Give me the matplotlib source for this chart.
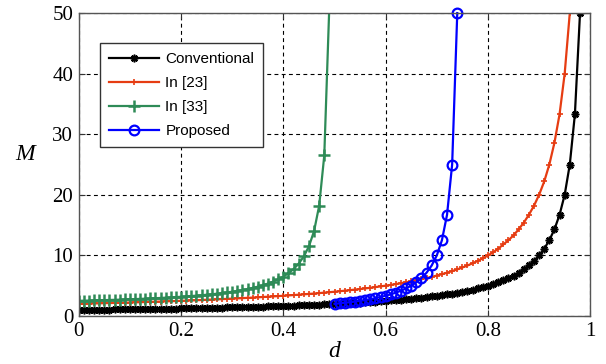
import matplotlib
matplotlib.use("Agg")
import matplotlib.pyplot as plt

# step grid along d shared by all four curves
d_vals = [0.00, 0.01, 0.02, 0.03, 0.04, 0.05, 0.06, 0.07, 0.08, 0.09,
          0.10, 0.11, 0.12, 0.13, 0.14, 0.15, 0.16, 0.17, 0.18, 0.19,
          0.20, 0.21, 0.22, 0.23, 0.24, 0.25, 0.26, 0.27, 0.28, 0.29,
          0.30, 0.31, 0.32, 0.33, 0.34, 0.35, 0.36, 0.37, 0.38, 0.39,
          0.40, 0.41, 0.42, 0.43, 0.44, 0.45, 0.46, 0.47, 0.48, 0.49,
          0.50, 0.51, 0.52, 0.53, 0.54, 0.55, 0.56, 0.57, 0.58, 0.59,
          0.60, 0.61, 0.62, 0.63, 0.64, 0.65, 0.66, 0.67, 0.68, 0.69,
          0.70, 0.71, 0.72, 0.73, 0.74, 0.75, 0.76, 0.77, 0.78, 0.79,
          0.80, 0.81, 0.82, 0.83, 0.84, 0.85, 0.86, 0.87, 0.88, 0.89,
          0.90, 0.91, 0.92, 0.93, 0.94, 0.95, 0.96, 0.97, 0.98]

M_conv = [1.00, 1.01, 1.02, 1.03, 1.04, 1.05, 1.06, 1.08, 1.09, 1.10,
          1.11, 1.12, 1.14, 1.15, 1.16, 1.18, 1.19, 1.20, 1.22, 1.23,
          1.25, 1.27, 1.28, 1.30, 1.32, 1.33, 1.35, 1.37, 1.39, 1.41,
          1.43, 1.45, 1.47, 1.49, 1.52, 1.54, 1.56, 1.59, 1.61, 1.64,
          1.67, 1.69, 1.72, 1.75, 1.79, 1.82, 1.85, 1.89, 1.92, 1.96,
          2.00, 2.04, 2.08, 2.13, 2.17, 2.22, 2.27, 2.33, 2.38, 2.44,
          2.50, 2.56, 2.63, 2.70, 2.78, 2.86, 2.94, 3.03, 3.13, 3.23,
          3.33, 3.45, 3.57, 3.70, 3.85, 4.00, 4.17, 4.35, 4.55, 4.76,
          5.00, 5.26, 5.56, 5.88, 6.25, 6.67, 7.14, 7.69, 8.33, 9.09,
          10.0, 11.1, 12.5, 14.3, 16.7, 20.0, 25.0, 33.3, 50.0]

M_23 = [2.00, 2.02, 2.04, 2.06, 2.08, 2.11, 2.13, 2.15, 2.17, 2.20,
        2.22, 2.25, 2.27, 2.30, 2.33, 2.35, 2.38, 2.41, 2.44, 2.47,
        2.50, 2.53, 2.56, 2.60, 2.63, 2.67, 2.70, 2.74, 2.78, 2.82,
        2.86, 2.90, 2.94, 2.99, 3.03, 3.08, 3.13, 3.17, 3.23, 3.28,
        3.33, 3.39, 3.45, 3.51, 3.57, 3.64, 3.70, 3.77, 3.85, 3.92,
        4.00, 4.08, 4.17, 4.26, 4.35, 4.44, 4.55, 4.65, 4.76, 4.88,
        5.00, 5.13, 5.26, 5.41, 5.56, 5.71, 5.88, 6.06, 6.25, 6.45,
        6.67, 6.90, 7.14, 7.41, 7.69, 8.00, 8.33, 8.70, 9.09, 9.52,
        10.0, 10.5, 11.1, 11.8, 12.5, 13.3, 14.3, 15.4, 16.7, 18.2,
        20.0, 22.2, 25.0, 28.6, 33.3, 40.0, 50.0]

M_33 = [2.50, 2.52, 2.54, 2.56, 2.59, 2.61, 2.64, 2.66, 2.69, 2.72,
        2.75, 2.78, 2.82, 2.85, 2.89, 2.93, 2.97, 3.02, 3.06, 3.11,
        3.17, 3.22, 3.29, 3.35, 3.42, 3.50, 3.58, 3.67, 3.77, 3.88,
        4.00, 4.13, 4.28, 4.44, 4.63, 4.83, 5.07, 5.35, 5.67, 6.05,
        6.50, 7.06, 7.75, 8.64, 9.83, 11.5, 14.0, 18.2, 26.5, 51.5]

M_prop = [2.00, 2.08, 2.17, 2.27, 2.38, 2.50, 2.63, 2.78, 2.94, 3.13,
          3.33, 3.57, 3.85, 4.17, 4.55, 5.00, 5.56, 6.25, 7.14, 8.33,
          10.0, 12.5, 16.7, 25.0, 50.0]

labels = ["Conventional", "In [23]", "In [33]", "Proposed"]
xtick_vals = [0, 0.2, 0.4, 0.6, 0.8, 1]
xtick_text = ["0", "0.2", "0.4", "0.6", "0.8", "1"]
ytick_vals = [0, 10, 20, 30, 40, 50]
ytick_text = ["0", "10", "20", "30", "40", "50"]

serif = "Liberation Serif"
sans = "Liberation Sans"

fig = plt.figure(figsize=(6.06, 3.64), dpi=100)
ax = fig.add_axes([0.130, 0.132, 0.844, 0.832])

ax.plot(d_vals[:len(M_conv)], M_conv, color="black", lw=1.6,
        marker=(8, 2, 0), ms=5.5, mew=1.2, label=labels[0])
ax.plot(d_vals[:len(M_23)], M_23, color="#e63c12", lw=1.6,
        marker="+", ms=5, mew=1.2, label=labels[1])
ax.plot(d_vals[:len(M_33)], M_33, color="#2e8b57", lw=1.6,
        marker="+", ms=8.5, mew=1.8, label=labels[2])
ax.plot(d_vals[50:50 + len(M_prop)], M_prop, color="#0000ff", lw=1.6,
        marker="o", ms=7, mfc="none", mew=1.6, label=labels[3],
        clip_on=False)

ax.set_xlim(0, 1)
ax.set_ylim(0, 50)
ax.set_xticks(xtick_vals)
ax.set_xticklabels(xtick_text, fontfamily=serif, fontsize=15)
ax.set_yticks(ytick_vals)
ax.set_yticklabels(ytick_text, fontfamily=serif, fontsize=15)
ax.tick_params(direction="in", length=4, width=0.8, color="#333333",
               top=True, right=True, pad=4)

ax.grid(True, color="black", linestyle=(0, (3.5, 3)), linewidth=0.8)
for s in ax.spines.values():
    s.set_color("#555555")
    s.set_linewidth(1.0)

ax.set_xlabel("d", fontfamily=serif, fontstyle="italic", fontsize=17,
              labelpad=0)
ax.set_ylabel("M", fontfamily=serif, fontstyle="italic", fontsize=17,
              rotation=0)
ax.yaxis.set_label_coords(-0.105, 0.5)

leg = ax.legend(loc="upper left", bbox_to_anchor=(0.041, 0.901),
                borderaxespad=0, fancybox=False, framealpha=1,
                edgecolor="#333333", prop={"family": sans, "size": 11},
                handlelength=3.3, handletextpad=0.4, labelspacing=0.65,
                borderpad=0.6)
leg.get_frame().set_linewidth(1.0)

fig.savefig("out.png", dpi=100)
